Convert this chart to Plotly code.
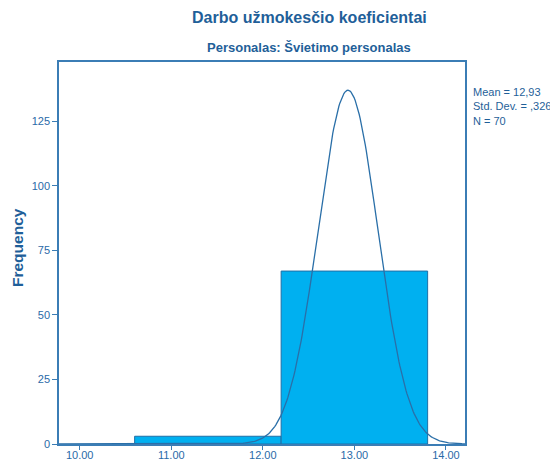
import numpy as np
import plotly.graph_objects as go

# Data
bin_left = [10.6, 12.2]
bin_width = 1.6
counts = [3, 67]
mean_val = 12.93
std_val = 0.326
n_val = 70
x_tick_vals = [10, 11, 12, 13, 14]
x_tick_text = ["10.00", "11.00", "12.00", "13.00", "14.00"]
y_tick_vals = [0, 25, 50, 75, 100, 125]

TEXT = "#1f5f99"
TICK = "#2a6aa8"
AXIS = "#3b7db5"
FONT = "Liberation Sans, Arial, sans-serif"

W, H = 550, 462
L, R, T, B = 59, 465, 62, 444
PW, PH = R - L, B - T

def px(x):
    return (x - L) / PW

def py(y):
    return (B - y) / PH

x_min, x_max = 9.774, 14.208
xs = np.linspace(x_min, x_max, 400)
ys = n_val * bin_width / (std_val * np.sqrt(2 * np.pi)) * np.exp(-0.5 * ((xs - mean_val) / std_val) ** 2)

fig = go.Figure()
fig.add_trace(go.Bar(
    x=[b + bin_width / 2 for b in bin_left], y=counts, width=bin_width,
    marker=dict(color="#00b0f0", line=dict(color="#1f6fa6", width=1)),
    hoverinfo="skip"))
fig.add_trace(go.Scatter(x=xs, y=ys, mode="lines",
                         line=dict(color="#2a6fa8", width=1.3), hoverinfo="skip"))

stats_text = (f"Mean = {mean_val:.2f}".replace(".", ",")
              + "<br>Std. Dev. = ," + f"{std_val:.3f}".split(".")[1]
              + f"<br>N = {n_val}")

fig.update_layout(
    width=W, height=H,
    margin=dict(l=L, r=W - R, t=T, b=H - B, autoexpand=False),
    paper_bgcolor="white", plot_bgcolor="white",
    showlegend=False,
    font=dict(family=FONT, color=TEXT, size=11),
    xaxis=dict(range=[x_min, x_max], tickvals=x_tick_vals, ticktext=x_tick_text,
               showgrid=False, zeroline=False, showline=True, linecolor=AXIS, linewidth=1.5,
               mirror=True, ticks="outside", ticklen=4, tickcolor=AXIS, automargin=False,
               ticklabelstandoff=-4,
               tickfont=dict(size=11, color=TICK)),
    yaxis=dict(range=[0, 148], tickvals=y_tick_vals,
               showgrid=False, zeroline=False, showline=True, linecolor=AXIS, linewidth=1.5,
               mirror=True, ticks="outside", ticklen=5, tickcolor=AXIS, automargin=False,
               tickfont=dict(size=11, color=TICK)),
    annotations=[
        dict(text="<b>Darbo užmokesčio koeficientai</b>", xref="paper", yref="paper",
             x=px(309), y=py(18), xanchor="center", yanchor="middle",
             showarrow=False, font=dict(size=16, color=TEXT, family=FONT)),
        dict(text="<b>Personalas: Švietimo personalas</b>", xref="paper", yref="paper",
             x=px(309), y=py(47), xanchor="center", yanchor="middle",
             showarrow=False, font=dict(size=13, color=TEXT, family=FONT)),
        dict(text="<b>Frequency</b>", xref="paper", yref="paper",
             x=px(17), y=py(248), xanchor="center", yanchor="middle", textangle=-90,
             showarrow=False, font=dict(size=15.5, color=TEXT, family=FONT)),
        dict(text=stats_text,
             xref="paper", yref="paper", x=px(471), y=py(84),
             xanchor="left", yanchor="top", align="left", showarrow=False,
             font=dict(size=11, color=TEXT, family=FONT)),
    ],
)
fig.write_html("out.html", config={"displayModeBar": False},
               post_script="document.body.style.margin='0';document.body.style.overflow='hidden';")
